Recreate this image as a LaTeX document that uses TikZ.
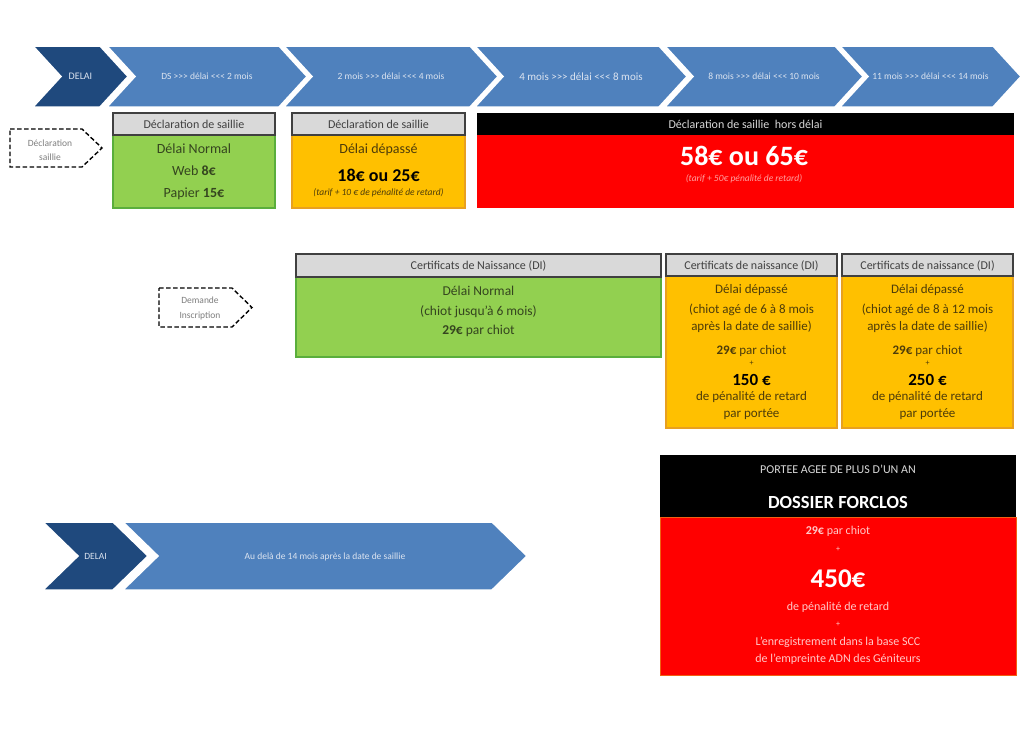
\documentclass[tikz,border=0pt]{standalone}
\usepackage{fontspec}
\setmainfont{Carlito}
\definecolor{dkblue}{HTML}{1F497D}
\definecolor{ltblue}{HTML}{4F81BD}
\definecolor{chevtxt}{HTML}{DCE4F0}
\definecolor{hdrgray}{HTML}{D9D9D9}
\definecolor{hdrline}{HTML}{404040}
\definecolor{grn}{HTML}{92D050}
\definecolor{grnline}{HTML}{5AAE3C}
\definecolor{orng}{HTML}{FFC000}
\definecolor{orngline}{HTML}{E8A020}
\definecolor{grntxt}{HTML}{35451F}
\definecolor{orgtxt}{HTML}{4D3C0A}
\definecolor{pinktxt}{HTML}{FFC9C9}
\definecolor{dashtxt}{HTML}{7F7F7F}
\definecolor{blkhdtxt}{HTML}{D9D9D9}
\newcommand{\fsz}[1]{\fontsize{#1}{#1}\selectfont}
\newcommand{\gtt}{>\kern0pt>\kern0pt>}
\newcommand{\ltt}{<\kern0pt<\kern0pt<}
\begin{document}
\begin{tikzpicture}[x=1pt,y=-1pt,
  ln/.style={anchor=base, inner sep=0pt},
  chevlbl/.style={ln, text=chevtxt, font=\fsz{9.5}},
  chevdark/.style={fill=dkblue, draw=white, line width=1.5pt},
  chevlight/.style={fill=ltblue, draw=white, line width=1.5pt},
  hdrbox/.style={fill=hdrgray, draw=hdrline, line width=1.1pt},
  hdrlbl/.style={ln, text=hdrline, font=\fsz{12}},
  grnbox/.style={fill=grn, draw=grnline, line width=1.1pt},
  orgbox/.style={fill=orng, draw=orngline, line width=1.1pt},
  redbox/.style={fill=red, draw=none},
  blkbox/.style={fill=black, draw=none},
  grnlbl/.style={ln, text=grntxt, font=\fsz{14}},
  grnlbl2/.style={ln, text=grntxt, font=\fsz{13.5}},
  orglbl/.style={ln, text=orgtxt, font=\fsz{13}},
  pinklbl/.style={ln, text=pinktxt, font=\fsz{12}},
  dashbox/.style={draw=black, line width=1.4pt, dash pattern=on 4.5pt off 2.5pt},
  dashlbl/.style={ln, text=dashtxt, font=\fsz{9.5}}
]
\useasboundingbox (0,0) rectangle (1034,731);
\fill[white] (0,0) rectangle (1034,731);

% ---- top chevron row ----
\draw[chevdark]  (33,46) -- (100,46) -- (128,76.5) -- (100,107) -- (33,107) -- (61,76.5) -- cycle;
\draw[chevlight] (107,46) -- (279,46) -- (307,76.5) -- (279,107) -- (107,107) -- (135,76.5) -- cycle;
\draw[chevlight] (284,46) -- (470,46) -- (498,76.5) -- (470,107) -- (284,107) -- (312,76.5) -- cycle;
\draw[chevlight] (475,46) -- (659,46) -- (687,76.5) -- (659,107) -- (475,107) -- (503,76.5) -- cycle;
\draw[chevlight] (665,46) -- (835,46) -- (863,76.5) -- (835,107) -- (665,107) -- (693,76.5) -- cycle;
\draw[chevlight] (840,46) -- (993,46) -- (1021,76.5) -- (993,107) -- (840,107) -- (868,76.5) -- cycle;
\node[chevlbl, font=\fsz{10}] (c1) at (80.5,79.5) {DELAI};
\node[chevlbl] (c2) at (207,79.5) {DS \gtt{} délai \ltt{} 2 mois};
\node[chevlbl] (c3) at (391,79.5) {2 mois \gtt{} délai \ltt{} 4 mois};
\node[chevlbl, font=\fsz{11}] (c4) at (581,80) {4 mois \gtt{} délai \ltt{} 8 mois};
\node[chevlbl] (c5) at (764,79.5) {8 mois \gtt{} délai \ltt{} 10 mois};
\node[chevlbl] (c6) at (930.5,79.5) {11 mois \gtt{} délai \ltt{} 14 mois};

% ---- dashed tags ----
\draw[dashbox] (10,129) -- (82,129) -- (102,148) -- (82,167) -- (10,167) -- cycle;
\node[dashlbl] (p1a) at (50,146) {Déclaration};
\node[dashlbl] (p1b) at (50,160) {saillie};
\draw[dashbox] (159,288) -- (232,288) -- (252,307.5) -- (232,327) -- (159,327) -- cycle;
\node[dashlbl] (p2a) at (200,303) {Demande};
\node[dashlbl] (p2b) at (200,318) {Inscription};

% ---- Box A ----
\draw[grnbox] (113,135) rectangle (275,208);
\draw[hdrbox] (113,113) rectangle (275,135);
\node[hdrlbl] (ah) at (194,128) {Déclaration de saillie};
\node[grnlbl] (a1) at (194,153.5) {Délai Normal};
\node[grnlbl] (a2) at (194,175.5) {Web \textbf{8€}};
\node[grnlbl] (a3) at (194,197) {Papier \textbf{15€}};

% ---- Box B ----
\draw[orgbox] (292,135) rectangle (465,208);
\draw[hdrbox] (292,113) rectangle (465,135);
\node[hdrlbl] (bh) at (378.5,128) {Déclaration de saillie};
\node[ln, text=orgtxt, font=\fsz{14}] (b1) at (378.5,153.5) {Délai dépassé};
\node[ln, text=black, font=\bfseries\fsz{18}] (b2) at (378.5,181) {18€ ou 25€};
\node[ln, text=orgtxt, font=\itshape\fsz{9.5}] (b3) at (378.5,195) {(tarif + 10 € de pénalité de retard)};

% ---- Box C ----
\draw[redbox] (477,135) rectangle (1014,208);
\draw[blkbox] (477,113) rectangle (1014,135);
\node[ln, text=blkhdtxt, font=\fsz{12}] (ch) at (745.5,128) {Déclaration de saillie\ \ hors délai};
\node[ln, text=white, font=\bfseries\fsz{28}] (c2a) at (744,165) {58€ ou 65€};
\node[ln, text=pinktxt!80!red, font=\itshape\fsz{9.5}] (c2b) at (744,181.5) {(tarif + 50€ pénalité de retard)};

% ---- Row 2 green ----
\draw[grnbox] (296,277) rectangle (661,357);
\draw[hdrbox] (296,254) rectangle (661,277);
\node[hdrlbl] (gh) at (478.5,269.5) {Certificats de Naissance (DI)};
\node[grnlbl2] (g1) at (478.5,295) {Délai Normal};
\node[grnlbl2] (g2) at (478.5,315) {(chiot jusqu’à 6 mois)};
\node[grnlbl2] (g3) at (478.5,334) {\textbf{29€} par chiot};

% ---- Box D ----
\draw[orgbox] (666,276) rectangle (837,428);
\draw[hdrbox] (666,254) rectangle (837,276);
\node[hdrlbl] (dh) at (751.5,269.5) {Certificats de naissance (DI)};
\node[orglbl] (d1) at (751.5,293) {Délai dépassé};
\node[orglbl] (d2) at (751.5,313) {(chiot agé de 6 à 8 mois};
\node[orglbl] (d3) at (751.5,330) {après la date de saillie)};
\node[orglbl] (d4) at (751.5,354) {\textbf{29€} par chiot};
\node[orglbl, font=\fsz{8}] (d5) at (751.5,365.5) {+};
\node[ln, text=black, font=\bfseries\fsz{17}] (d6) at (751.5,385.5) {150 €};
\node[orglbl] (d7) at (751.5,400) {de pénalité de retard};
\node[orglbl] (d8) at (751.5,417) {par portée};

% ---- Box E ----
\draw[orgbox] (842,276) rectangle (1013,428);
\draw[hdrbox] (842,254) rectangle (1013,276);
\node[hdrlbl] (eh) at (927.5,269.5) {Certificats de naissance (DI)};
\node[orglbl] (e1) at (927.5,293) {Délai dépassé};
\node[orglbl] (e2) at (927.5,313) {(chiot agé de 8 à 12 mois};
\node[orglbl] (e3) at (927.5,330) {après la date de saillie)};
\node[orglbl] (e4) at (927.5,354) {\textbf{29€} par chiot};
\node[orglbl, font=\fsz{8}] (e5) at (927.5,365.5) {+};
\node[ln, text=black, font=\bfseries\fsz{17}] (e6) at (927.5,385.5) {250 €};
\node[orglbl] (e7) at (927.5,400) {de pénalité de retard};
\node[orglbl] (e8) at (927.5,417) {par portée};

% ---- Big box ----
\draw[redbox, draw=orngline!60!red, line width=0.6pt] (660,517) rectangle (1016,675);
\draw[blkbox] (660,455) rectangle (1016,517);
\node[ln, text=blkhdtxt, font=\fsz{12}] (fh) at (838,473) {PORTEE AGEE DE PLUS D’UN AN};
\node[ln, text=white, font=\bfseries\fsz{18.5}] (f0) at (838,508) {DOSSIER FORCLOS};
\node[pinklbl] (f1) at (838,534.5) {\textbf{29€} par chiot};
\node[pinklbl, font=\fsz{8}] (f2) at (838,551.5) {+};
\node[ln, text=white, font=\bfseries\fsz{27}] (f3) at (838,587) {450€};
\node[pinklbl] (f4) at (838,610.5) {de pénalité de retard};
\node[pinklbl, font=\fsz{8}] (f5) at (838,626.5) {+};
\node[pinklbl] (f6) at (838,645.5) {L’enregistrement dans la base SCC};
\node[pinklbl] (f7) at (838,662.5) {de l’empreinte ADN des Géniteurs};

% ---- bottom chevron row ----
\draw[chevdark]  (43,522) -- (113,522) -- (148,556) -- (113,590) -- (43,590) -- (78,556) -- cycle;
\draw[chevlight] (123,522) -- (492,522) -- (527,556) -- (492,590) -- (123,590) -- (158,556) -- cycle;
\node[chevlbl] (b1l) at (95.5,559) {DELAI};
\node[chevlbl] (b2l) at (325,559) {Au delà de 14 mois après la date de saillie};
\end{tikzpicture}
\end{document}
